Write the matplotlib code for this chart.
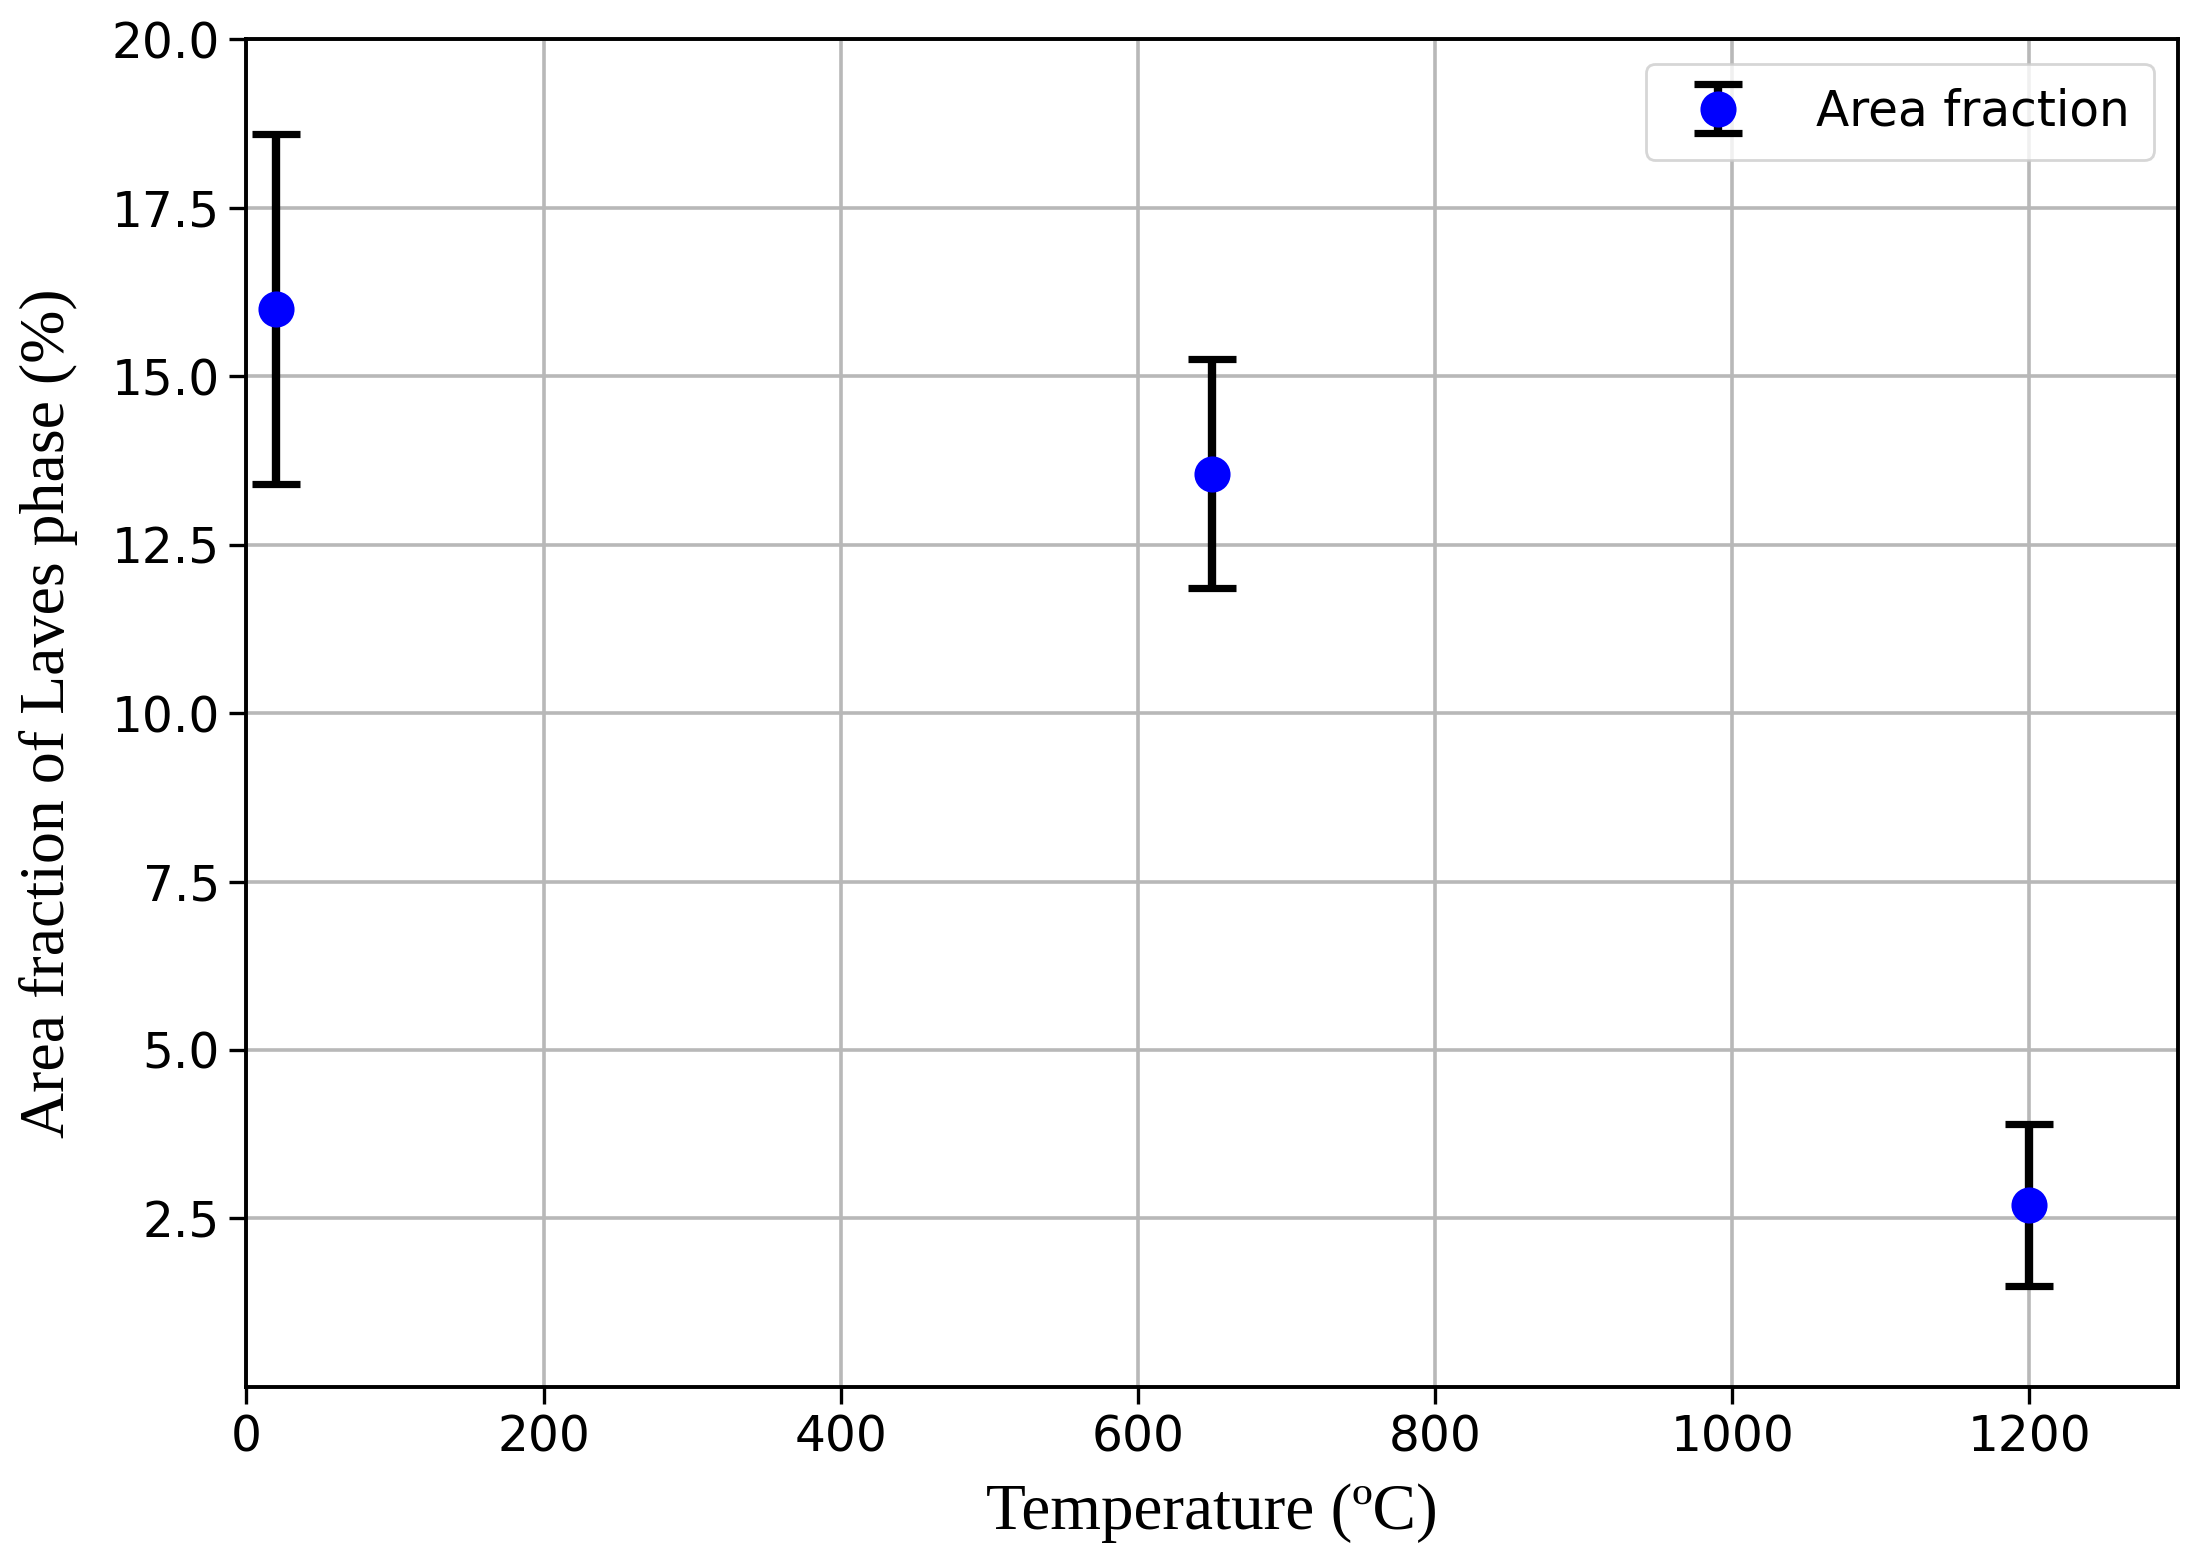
import numpy as np
import matplotlib
matplotlib.use("Agg")
import matplotlib.pyplot as plt

# --- data ---
temperature = [20, 650, 1200]
area_fraction = [16.0, 13.55, 2.7]
area_error = [2.6, 1.7, 1.2]

x_ticks = [0, 200, 400, 600, 800, 1000, 1200]
y_ticks = [2.5, 5.0, 7.5, 10.0, 12.5, 15.0, 17.5, 20.0]

fig = plt.figure(figsize=(11, 7.84), dpi=200)
ax = fig.add_axes([0.112, 0.1155, 0.878, 0.8595])

ax.errorbar(
    temperature,
    area_fraction,
    yerr=area_error,
    fmt="o",
    color="blue",
    markersize=12,
    ecolor="black",
    elinewidth=3,
    capsize=8.5,
    capthick=2.6,
    label="Area fraction",
    zorder=3,
)

ax.set_xlim(0, 1300)
ax.set_ylim(0, 20)
ax.set_xticks(x_ticks)
ax.set_yticks(y_ticks)
ax.tick_params(labelsize=17.5, length=6, width=1.2)
ax.grid(True, color="#b8b8b8", linewidth=1.3)
ax.set_axisbelow(True)
for s in ax.spines.values():
    s.set_linewidth(1.4)

ax.set_xlabel("Temperature (ºC)", fontsize=23.5, family="Liberation Serif", labelpad=8)
ax.set_ylabel("Area fraction of Laves phase (%)", fontsize=23, family="Liberation Serif", labelpad=12)

ax.legend(loc="upper right", fontsize=17.5, borderpad=0.5, handletextpad=1.0)

fig.savefig("out.png")
